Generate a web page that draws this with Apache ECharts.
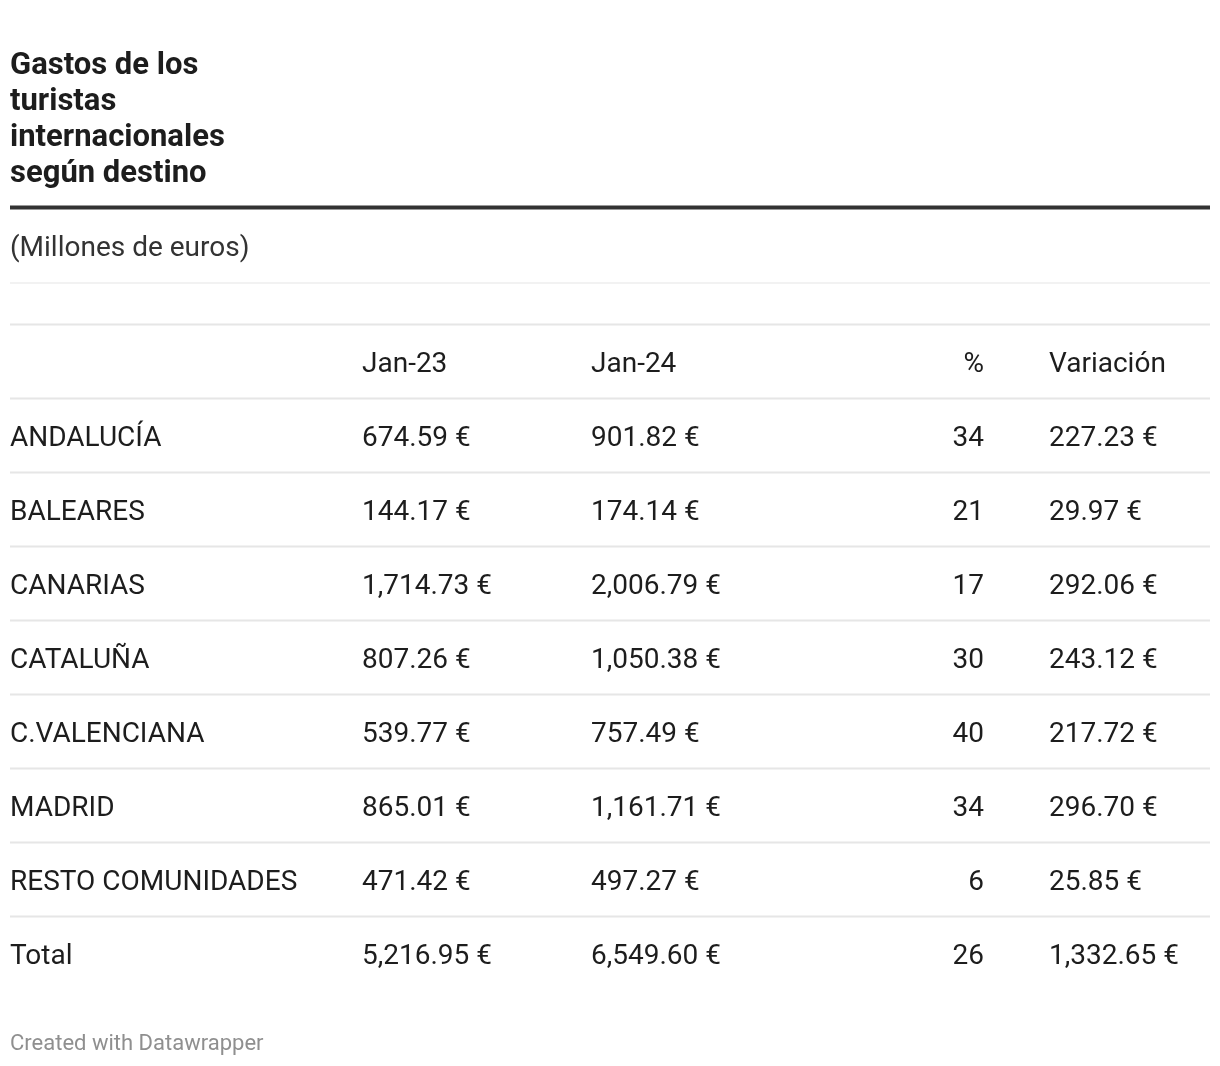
<!DOCTYPE html>
<html>
<head>
<meta charset="utf-8">
<script src="https://cdn.jsdelivr.net/npm/echarts@6/dist/echarts.min.js"></script>
<style>
html,body{margin:0;padding:0;background:#fff;}
#chart{width:1220px;height:1066px;}
</style>
</head>
<body>
<div id="chart"></div>
<script>
// ---- data ----
const titleText = 'Gastos de los\nturistas\ninternacionales\nsegún destino';
const subtitleText = '(Millones de euros)';
const footerText = 'Created with Datawrapper';
const headers = ['', 'Jan-23', 'Jan-24', '%', 'Variación'];
const regions = ['ANDALUCÍA', 'BALEARES', 'CANARIAS', 'CATALUÑA', 'C.VALENCIANA', 'MADRID', 'RESTO COMUNIDADES', 'Total'];
const jan23 = [674.59, 144.17, 1714.73, 807.26, 539.77, 865.01, 471.42, 5216.95];
const jan24 = [901.82, 174.14, 2006.79, 1050.38, 757.49, 1161.71, 497.27, 6549.60];
const pct = [34, 21, 17, 30, 40, 34, 6, 26];
const variacion = [227.23, 29.97, 292.06, 243.12, 217.72, 296.70, 25.85, 1332.65];

// ---- layout ----
const FONT = 'Roboto, "Noto Sans", sans-serif';
const colX = [0, 352, 581, 974, 1039];          // axis coords of columns
const colAlign = ['left', 'left', 'left', 'right', 'left'];

const euro = v => v.toLocaleString('en-US', {minimumFractionDigits: 2, maximumFractionDigits: 2}) + ' €';

const rowCats = ['header'].concat(regions);
const rows = [headers].concat(regions.map((r, i) => [r, euro(jan23[i]), euro(jan24[i]), String(pct[i]), euro(variacion[i])]));

const chart = echarts.init(document.getElementById('chart'), null, {renderer: 'canvas'});
chart.setOption({
  backgroundColor: '#fff',
  animation: false,
  title: [{
    text: titleText,
    left: 10, top: 48, padding: 0,
    textStyle: {fontFamily: FONT, fontWeight: 'bold', fontSize: 31, lineHeight: 36, color: '#1d1d1d'}
  }],
  grid: {left: 10, right: 10, top: 325, height: 666},
  xAxis: {type: 'value', min: 0, max: 1200, show: false},
  yAxis: {type: 'category', data: rowCats, inverse: true, show: false},
  graphic: [
    {type: 'rect', shape: {x: 10, y: 205.5, width: 1200, height: 4}, style: {fill: '#333'}},
    {type: 'text', x: 10, y: 249, style: {text: subtitleText, font: '28px ' + FONT, fill: '#333', verticalAlign: 'middle'}},
    {type: 'rect', shape: {x: 10, y: 282.5, width: 1200, height: 1}, style: {fill: '#e5e5e5'}},
    {type: 'text', x: 10, y: 1044, style: {text: footerText, font: '22px ' + FONT, fill: '#8f8f8f', verticalAlign: 'middle'}}
  ],
  series: [{
    type: 'custom',
    coordinateSystem: 'cartesian2d',
    data: rows.map((r, i) => [0, i]),
    renderItem: function (params, api) {
      const ri = api.value(1);
      const cells = rows[ri];
      const bandH = api.size([0, 1])[1];
      const children = [];
      const yc = api.coord([0, ri])[1];
      const left = api.coord([0, ri])[0];
      const right = api.coord([1200, ri])[0];
      const yTop = Math.round(yc - bandH / 2) - 0.5;
      children.push({type: 'line', shape: {x1: left, y1: yTop, x2: right, y2: yTop}, style: {stroke: '#e6e6e6', lineWidth: 2}});
      cells.forEach((c, ci) => {
        const p = api.coord([colX[ci], ri]);
        children.push({type: 'text', x: p[0], y: p[1] + 3,
          style: {text: c, font: '28px ' + FONT, fill: '#1d1d1d', align: colAlign[ci], verticalAlign: 'middle'}});
      });
      return {type: 'group', children: children};
    }
  }]
});
</script>
</body>
</html>
